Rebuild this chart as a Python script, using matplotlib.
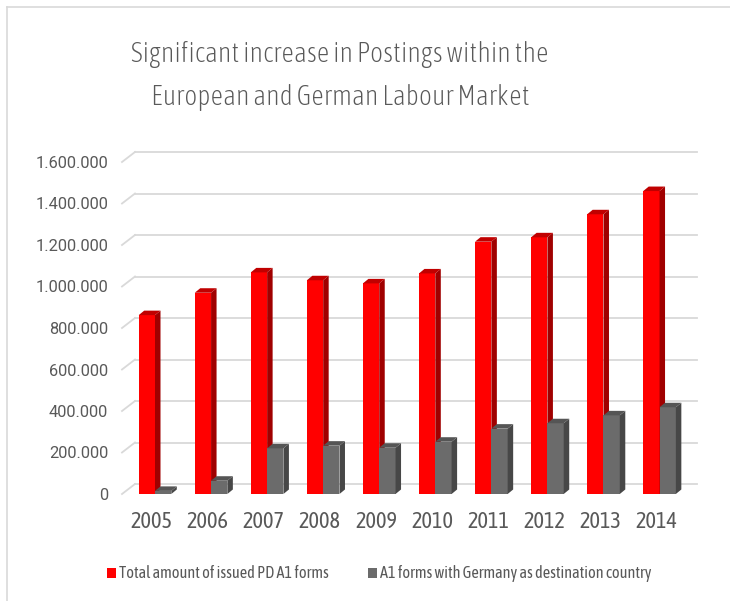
import matplotlib
matplotlib.use("Agg")
import matplotlib.pyplot as plt
from matplotlib.patches import Polygon, Patch
from matplotlib.lines import Line2D

plt.rcParams['font.family'] = ['Asap Condensed', 'DejaVu Sans']
tick_font = ['Roboto', 'DejaVu Sans']

# data
years = ['2005', '2006', '2007', '2008', '2009', '2010', '2011', '2012', '2013', '2014']
total_pd_a1 = [862000, 970000, 1068000, 1030000, 1015000, 1063000, 1216000, 1237000, 1348000, 1460000]
germany_a1 = [15000, 64000, 220000, 233000, 223000, 252000, 315000, 341000, 379000, 418000]
yticks = [0, 200000, 400000, 600000, 800000, 1000000, 1200000, 1400000, 1600000]
title_lines = ["Significant increase in Postings within the", "European and German Labour Market"]
legend_labels = ["Total amount of issued PD A1 forms", "A1 forms with Germany as destination country"]

W, H = 730, 601
fig = plt.figure(figsize=(W / 100, H / 100), dpi=100)

# front plane of the 3d box, in pixels
left_px, right_px, bottom_px, top_px = 122, 684, 494, 162
ax = fig.add_axes([left_px / W, (H - bottom_px) / H, (right_px - left_px) / W, (bottom_px - top_px) / H])
step_px = 56.06
x0 = (left_px - 155) / step_px
x1 = (right_px - 155) / step_px
ax.set_xlim(x0, x1)
ax.set_ylim(0, 1600000)

px_y = 1600000 / (bottom_px - top_px)   # data units per pixel (y)
px_x = 1 / step_px                      # data units per pixel (x)

# back wall offset and bar depth offset
bdx, bdy = 13 * px_x, 10 * px_y
ddx, ddy = 5.5 * px_x, 4.5 * px_y
back_right = (697 - 155) / step_px

grid_col = '#d9d9d9'
for v in yticks:
    ax.add_line(Line2D([x0, x0 + bdx], [v, v + bdy], color=grid_col, lw=1.3, clip_on=False, zorder=1))
    ax.add_line(Line2D([x0 + bdx, back_right], [v + bdy, v + bdy], color=grid_col, lw=1.3, clip_on=False, zorder=1))

w = 16.3 * px_x

def bar3d(xl, v, front, side, top):
    xr = xl + w
    ax.add_patch(Polygon([(xl, 0), (xr, 0), (xr, v), (xl, v)], closed=True, fc=front, ec='none', zorder=3, clip_on=False))
    ax.add_patch(Polygon([(xr, 0), (xr + ddx, ddy), (xr + ddx, v + ddy), (xr, v)], closed=True, fc=side, ec='none', zorder=3, clip_on=False))
    ax.add_patch(Polygon([(xl, v), (xl + ddx, v + ddy), (xr + ddx, v + ddy), (xr, v)], closed=True, fc=top, ec='none', zorder=3, clip_on=False))

for i in range(len(years)):
    bar3d(i - w, total_pd_a1[i], '#ff0000', '#a00000', '#c00000')
    bar3d(i, germany_a1[i], '#6b6b6b', '#474747', '#555555')

for s in ax.spines.values():
    s.set_visible(False)
ax.set_yticks(yticks)
ax.set_yticklabels([f"{v:,}".replace(',', '.') for v in yticks])
ax.set_xticks([i - 0.06 for i in range(len(years))])
ax.set_xticklabels(years)
ax.tick_params(axis='y', length=0, pad=10, labelsize=11.8, labelcolor='#595959')
ax.tick_params(axis='x', length=0, pad=12, labelsize=16, labelcolor='#595959')
for lab in ax.get_yticklabels():
    lab.set_family(tick_font)
ax.patch.set_visible(False)

fig.text(340 / W, 1 - 62.5 / H, title_lines[0], ha='center', va='baseline', fontsize=20, color='#595959', fontweight='light')
fig.text(340 / W, 1 - 105 / H, title_lines[1], ha='center', va='baseline', fontsize=20, color='#595959', fontweight='light')

handles = [Patch(fc='#ff0000', ec='none'), Patch(fc='#6b6b6b', ec='none')]
fig.legend(handles, legend_labels, ncol=2, loc='center left', bbox_to_anchor=(107 / W, 1 - 574 / H),
           frameon=False, labelcolor='#595959', handlelength=0.55, handleheight=0.55,
           handletextpad=0.18, columnspacing=2.45, borderpad=0, borderaxespad=0,
           prop={'family': ['Asap Condensed', 'DejaVu Sans'], 'size': 11.7})

# outer chart frame (top and left edges visible)
fig.add_artist(Line2D([6.5 / W, 6.5 / W], [0, 1 - 6.5 / H], transform=fig.transFigure, color='#d9d9d9', lw=1.2))
fig.add_artist(Line2D([6.5 / W, 1], [1 - 6.5 / H, 1 - 6.5 / H], transform=fig.transFigure, color='#d9d9d9', lw=1.2))

fig.savefig('out.png', dpi=100)
